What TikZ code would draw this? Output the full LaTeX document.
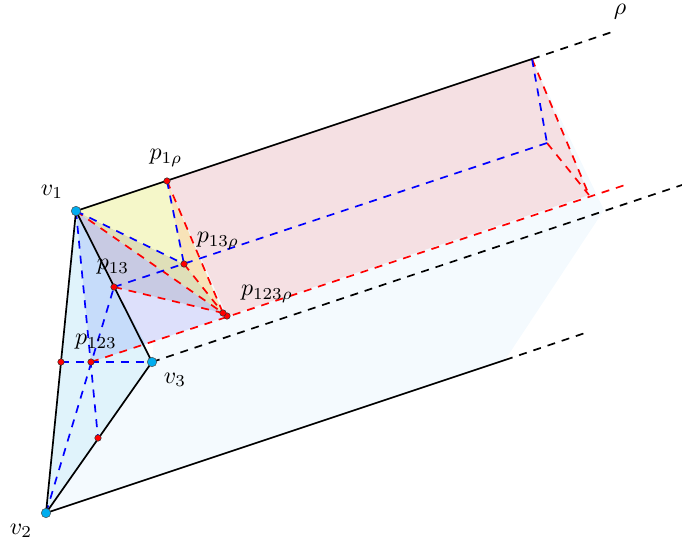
\documentclass[tikz,border=0pt]{standalone}
\usepackage{amsmath,amssymb}
\usepackage{xcolor}
\usetikzlibrary{calc}

\definecolor{fillfar}{HTML}{F4FAFE}
\definecolor{fillcyan}{HTML}{E0F3FB}
\definecolor{fillblue}{HTML}{C6DCFA}
\definecolor{filllav}{HTML}{DDE0FB}
\definecolor{fillgrey}{HTML}{C8CAE3}
\definecolor{fillolive}{HTML}{DFDFB8}
\definecolor{fillyellow}{HTML}{F5F7C9}
\definecolor{fillorange}{HTML}{F8E3B8}
\definecolor{fillpink}{HTML}{F5E0E3}

\tikzset{
    edgeline/.style={black, line width=1.7pt},
    blackdash/.style={black, line width=1.7pt, dash pattern=on 8pt off 7pt},
    bluedash/.style={blue, line width=1.7pt, dash pattern=on 8pt off 7pt},
    reddash/.style={red, line width=1.7pt, dash pattern=on 8pt off 7pt},
    vertexpt/.style={circle, draw=black!70, fill=cyan, line width=0.5pt, inner sep=0pt, minimum size=9.5pt},
    redpt/.style={circle, draw=black!80, fill=red, line width=0.5pt, inner sep=0pt, minimum size=6.5pt},
    tag/.style={inner sep=0pt, scale=2.4}
}

\begin{document}
\begin{tikzpicture}[x=1bp, y=-1bp]
    \useasboundingbox (0,0) rectangle (682,548);

    % Vertices and intersection points
    \coordinate (v1) at (76,211);
    \coordinate (v2) at (46,513);
    \coordinate (v3) at (152,362);
    \coordinate (p1r) at (167,181);
    \coordinate (p13) at (114,287);
    \coordinate (p13r) at (184,264);
    \coordinate (p123) at (91,362);
    \coordinate (p123r) at (227,316);
    \coordinate (pconv) at (223,313);
    \coordinate (pleft) at (61,362);
    \coordinate (plow) at (98,438);
    \coordinate (cross) at (146,344);
    % Far ends along rho
    \coordinate (far1) at (532,59);
    \coordinate (far13) at (547,143);
    \coordinate (far123) at (589,195);
    \coordinate (far3) at (604,210);
    \coordinate (far2) at (505,360);
    \coordinate (end1) at (615,31);
    \coordinate (end123) at (628,184);
    \coordinate (end3) at (682,185);
    \coordinate (end2) at (585,333);

    % Shaded faces
    \fill[fillfar] (p1r) -- (far1) -- (far3) -- (far2) -- (v2) -- (v3) -- cycle;
    \fill[fillpink] (p1r) -- (far1) -- (far123) -- (p123r) -- cycle;
    \fill[fillcyan] (v1) -- (v2) -- (v3) -- cycle;
    \fill[fillblue] (v1) -- (cross) -- (p123) -- cycle;
    \fill[filllav] (p13) -- (pconv) -- (p123r) -- (cross) -- cycle;
    \fill[fillgrey] (v1) -- (pconv) -- (p13) -- cycle;
    \fill[fillolive] (v1) -- (p13r) -- (pconv) -- cycle;
    \fill[fillyellow] (v1) -- (p1r) -- (p13r) -- cycle;
    \fill[fillorange] (p1r) -- (p13r) -- (pconv) -- cycle;

    % Rays towards rho
    \draw[blackdash] (far1) -- (end1);
    \draw[blackdash] (v3) -- (end3);
    \draw[blackdash] (far2) -- (end2);

    % Red dashed paths
    \draw[reddash] (p123) -- (end123);
    \draw[reddash] (v1) -- (pconv);
    \draw[reddash] (p1r) -- (pconv);
    \draw[reddash] (p13r) -- (pconv);
    \draw[reddash] (p13) -- (pconv);
    \draw[reddash] (far1) -- (far123);
    \draw[reddash] (far13) -- (far123);

    % Blue dashed paths
    \draw[bluedash] (v1) -- (p13r);
    \draw[bluedash] (p1r) -- (p13r);
    \draw[bluedash] (p13) -- (far13);
    \draw[bluedash] (far1) -- (far13);
    \draw[bluedash] (v2) -- (p13);
    \draw[bluedash] (v1) -- (plow);
    \draw[bluedash] (pleft) -- (v3);

    % Solid edges
    \draw[edgeline] (v1) -- (v2) -- (v3) -- cycle;
    \draw[edgeline] (v1) -- (far1);
    \draw[edgeline] (v2) -- (far2);

    % Points
    \foreach \pt in {p1r, p13, p13r, p123, p123r, pconv, pleft, plow} {
        \node[redpt] (dot\pt) at (\pt) {};
    }
    \foreach \pt in {v1, v2, v3} {
        \node[vertexpt] (dot\pt) at (\pt) {};
    }

    % Labels
    \node[tag] (lblv1) at (52,192) {$v_1$};
    \node[tag] (lblv2) at (21,531) {$v_2$};
    \node[tag] (lblv3) at (175,380) {$v_3$};
    \node[tag] (lblp1r) at (166,158) {$p_{1\rho}$};
    \node[tag] (lblp13) at (113,267) {$p_{13}$};
    \node[tag] (lblp13r) at (218,241) {$p_{13\rho}$};
    \node[tag] (lblp123) at (96,342) {$p_{123}$};
    \node[tag] (lblp123r) at (267,294) {$p_{123\rho}$};
    \node[tag] (lblrho) at (620,12) {$\rho$};
\end{tikzpicture}
\end{document}
